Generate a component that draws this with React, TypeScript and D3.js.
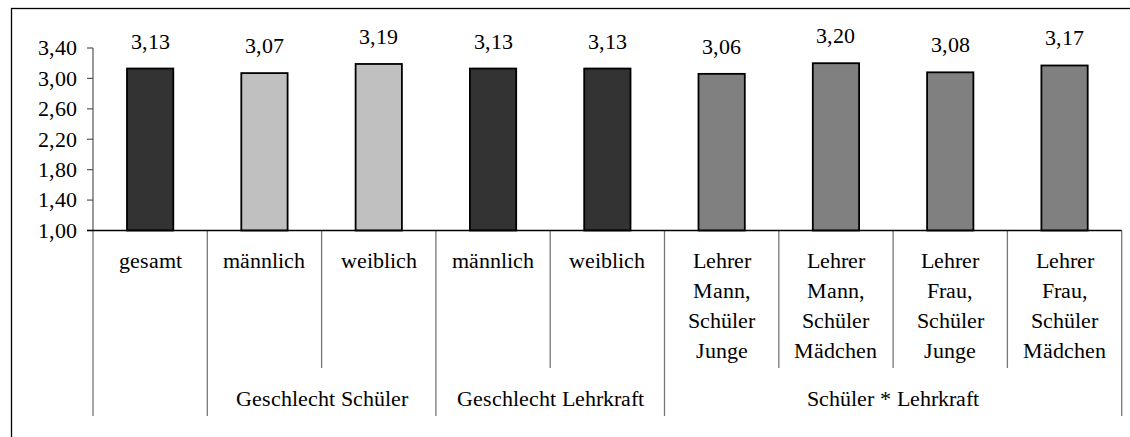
import React from "react";
import * as d3 from "d3";

const categories: string[][] = [
  ["gesamt"],
  ["männlich"],
  ["weiblich"],
  ["männlich"],
  ["weiblich"],
  ["Lehrer", "Mann,", "Schüler", "Junge"],
  ["Lehrer", "Mann,", "Schüler", "Mädchen"],
  ["Lehrer", "Frau,", "Schüler", "Junge"],
  ["Lehrer", "Frau,", "Schüler", "Mädchen"],
];
const values: number[] = [3.13, 3.07, 3.19, 3.13, 3.13, 3.06, 3.2, 3.08, 3.17];
const barColors: string[] = ["#333333", "#C0C0C0", "#C0C0C0", "#333333", "#333333", "#808080", "#808080", "#808080", "#808080"];
const groups: { label: string; start: number; end: number }[] = [
  { label: "", start: 0, end: 1 },
  { label: "Geschlecht Schüler", start: 1, end: 3 },
  { label: "Geschlecht Lehrkraft", start: 3, end: 5 },
  { label: "Schüler * Lehrkraft", start: 5, end: 9 },
];
const yTicks: number[] = [1.0, 1.4, 1.8, 2.2, 2.6, 3.0, 3.4];

const fmt = (v: number) => v.toFixed(2).replace(".", ",");

export default function App() {
  const W = 1130;
  const H = 437;
  const x0 = 93;
  const x1 = 1121.7;
  const yTop = 48;
  const yBot = 230.5;
  const font = "ChartSerif, Liberation Serif, serif";
  const fs = 21.5;

  const x = d3.scaleBand<number>().domain(d3.range(categories.length)).range([x0, x1]).paddingInner(0).paddingOuter(0);
  const y = d3.scaleLinear().domain([1.0, 3.4]).range([yBot, yTop]);
  const bw = x.bandwidth() * 0.405;

  const groupBounds = new Set<number>();
  groups.forEach((g) => {
    groupBounds.add(g.start);
    groupBounds.add(g.end);
  });

  const boundaryX = (i: number) => (i < categories.length ? (x(i) as number) : x1);

  return (
    <svg width={W} height={H} style={{ position: "absolute", left: 0, top: 0, background: "#fff" }}>
      <style>{`@font-face { font-family: "ChartSerif"; src: local("Liberation Serif"), local("LiberationSerif"), local("LiberationSerif-Regular"); }`}</style>
      <rect x={11.5} y={8.5} width={1200} height={500} fill="#fff" stroke="#000" strokeWidth={1.3} />
      {d3.range(categories.length + 1).map((i) => (
        <line
          key={"sep" + i}
          x1={boundaryX(i)}
          x2={boundaryX(i)}
          y1={yBot}
          y2={groupBounds.has(i) ? 416 : 368}
          stroke="#777"
          strokeWidth={1.3}
        />
      ))}
      <line x1={x0} x2={x0} y1={yTop} y2={yBot} stroke="#555" strokeWidth={1.2} />
      {yTicks.map((t) => (
        <g key={"t" + t}>
          <line x1={x0 - 6} x2={x0} y1={y(t)} y2={y(t)} stroke="#555" strokeWidth={1.2} />
          <text x={77} y={y(t)} dy="0.34em" textAnchor="end" fontFamily={font} fontSize={fs} fill="#000">
            {fmt(t)}
          </text>
        </g>
      ))}
      {values.map((v, i) => {
        const cx = (x(i) as number) + x.bandwidth() / 2;
        return (
          <g key={"b" + i}>
            <rect
              x={cx - bw / 2}
              y={y(v)}
              width={bw}
              height={yBot - y(v)}
              fill={barColors[i]}
              stroke="#000"
              strokeWidth={1.8}
            />
            <text x={cx} y={y(v) - 20} textAnchor="middle" fontFamily={font} fontSize={fs} fill="#000">
              {fmt(v)}
            </text>
          </g>
        );
      })}
      <line x1={x0 - 6} x2={x1} y1={yBot} y2={yBot} stroke="#000" strokeWidth={1.3} />
      {categories.map((lines, i) => {
        const cx = (x(i) as number) + x.bandwidth() / 2;
        return (
          <text key={"c" + i} textAnchor="middle" fontFamily={font} fontSize={fs} fill="#000">
            {lines.map((l, j) => (
              <tspan key={j} x={cx} y={268 + j * 30}>
                {l}
              </tspan>
            ))}
          </text>
        );
      })}
      {groups.map((g) =>
        g.label ? (
          <text
            key={"g" + g.label}
            x={(boundaryX(g.start) + boundaryX(g.end)) / 2}
            y={406}
            textAnchor="middle"
            fontFamily={font}
            fontSize={fs}
            fill="#000"
          >
            {g.label}
          </text>
        ) : null
      )}
    </svg>
  );
}
